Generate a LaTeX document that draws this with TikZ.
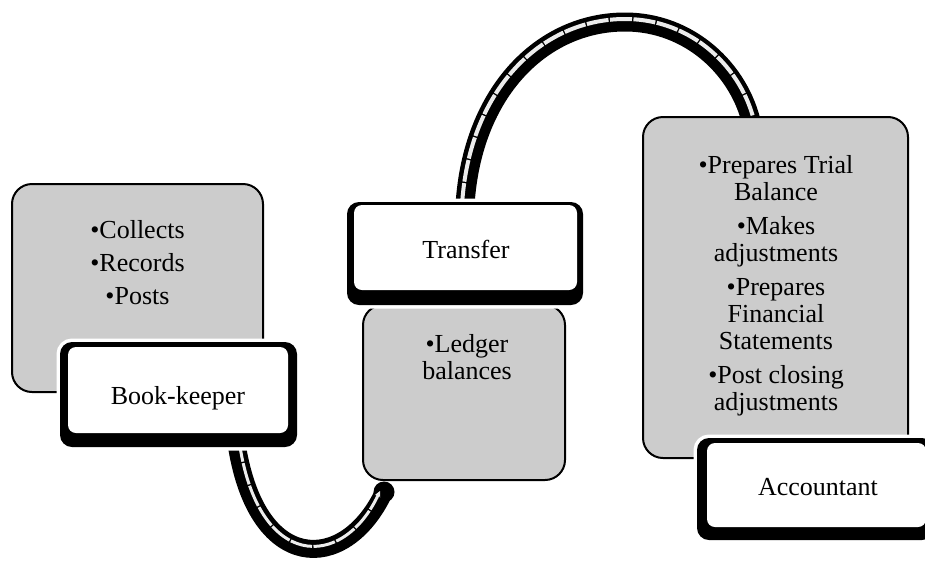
\documentclass[tikz,border=0pt]{standalone}
\usepackage{fontspec}
\setmainfont{Liberation Serif}
\usetikzlibrary{arrows.meta}
\definecolor{boxgray}{RGB}{204,204,204}
\definecolor{linegray}{RGB}{236,236,236}
\begin{document}
\begin{tikzpicture}[x=1pt,y=-1pt,
  graybox/.style={draw=black, line width=2pt, fill=boxgray, rounded corners=20pt, inner sep=0pt},
  outerbox/.style={fill=black, rounded corners=12pt, inner sep=0pt,
     preaction={draw=white, line width=7pt, rounded corners=12pt}},
  innerbox/.style={fill=white, rounded corners=8pt, inner sep=0pt},
  band/.style={line width=#1, black, line cap=round},
  bandline/.style={line width=#1, linegray, dash pattern=on 22pt off 1.5pt},
  txt/.style={align=center, font=\fontsize{26}{27}\selectfont, inner sep=0pt}
]
\useasboundingbox (0,0) rectangle (925,560);
\clip (0,0) rectangle (925,560);

% connector end points
\coordinate (a1s) at (236,440);
\coordinate (a1e) at (384,492);
\coordinate (a1ws) at (239,440);
\coordinate (a1we) at (380,491);
\coordinate (a2s) at (465,205);
\coordinate (a2m) at (625,22);
\coordinate (a2e) at (752,125);
\coordinate (a2ws) at (462,205);
\coordinate (a2wm) at (625,19);
\coordinate (a2we) at (755,125);

% bottom curved arrow (Book-keeper -> Ledger)
\draw[band=18pt] (a1s) .. controls (255,575) and (345,575) .. (a1e);
\fill[black] (a1e) circle (10.5pt);
\draw[bandline=3pt, -{Stealth[length=6pt,width=6pt]}] (a1ws) .. controls (257,571) and (343,571) .. (a1we);

% top curved arrow (Transfer -> Accountant)
\draw[band=19pt] (a2s) .. controls (472,92) and (542,22) .. (a2m) .. controls (690,22) and (740,70) .. (a2e);
\draw[bandline=4pt] (a2ws) .. controls (469,90) and (541,19) .. (a2wm) .. controls (692,19) and (743,68) .. (a2we);

% gray boxes
\node[graybox, minimum width=251pt, minimum height=208pt] (lg) at (137.5,288) {};
\node[graybox, minimum width=202pt, minimum height=175pt] (mg) at (464,392.5) {};
\node[graybox, minimum width=265pt, minimum height=341pt] (rg) at (775.5,287.5) {};

% white boxes
\node[outerbox, minimum width=237pt, minimum height=105pt] (bko) at (178.5,394.5) {};
\node[innerbox, minimum width=220pt, minimum height=86pt] (bki) at (178,390) {};
\node[outerbox, minimum width=236pt, minimum height=103pt] (tro) at (465,253.5) {};
\node[innerbox, minimum width=223pt, minimum height=85pt] (tri) at (465.5,247.5) {};
\node[outerbox, minimum width=237pt, minimum height=102pt] (aco) at (815.5,489) {};
\node[innerbox, minimum width=219pt, minimum height=84pt] (aci) at (816.5,485) {};

% texts
\node[txt] (lt) at (137.5,263) {•Collects\\[6pt]•Records\\[6pt]•Posts};
\node[txt] (mt) at (467,357) {•Ledger\\balances};
\node[txt] (rt) at (776,285.5) {•Prepares Trial\\Balance\\[7pt]•Makes\\adjustments\\[7pt]•Prepares\\Financial\\Statements\\[7pt]•Post closing\\adjustments};
\node[txt] (bkt) at (178,398) {Book-keeper};
\node[txt] (trt) at (466,249) {Transfer};
\node[txt] (act) at (818,487) {Accountant};
\end{tikzpicture}
\end{document}
